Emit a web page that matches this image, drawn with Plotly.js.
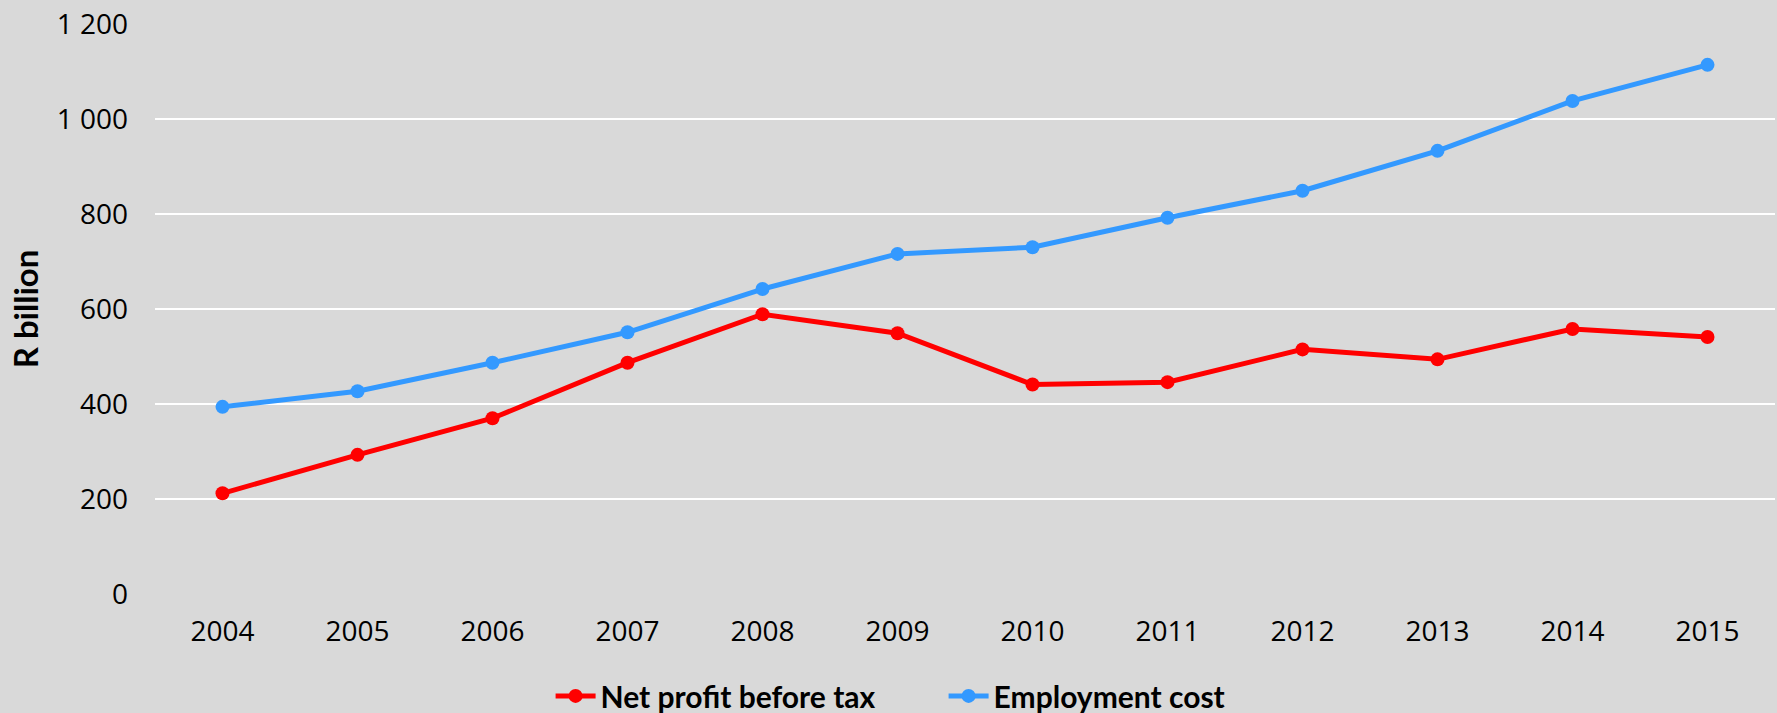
<!DOCTYPE html>
<html>
<head>
<meta charset="utf-8">
<script src="https://cdn.plot.ly/plotly-3.0.1.min.js"></script>
<style>html,body{margin:0;padding:0;background:#D9D9D9;}#chart{width:1777px;height:713px;}</style>
</head>
<body>
<div id="chart"></div>
<script>
const years = ['2004','2005','2006','2007','2008','2009','2010','2011','2012','2013','2014','2015'];
const netProfit = [212, 293, 370, 487, 589, 549, 441, 446, 515, 494, 558, 541];
const employmentCost = [394, 427, 487, 551, 642, 716, 730, 792, 849, 933, 1038, 1114];
const yTicks = [0, 200, 400, 600, 800, 1000, 1200];

const traces = [
  {
    x: years, y: netProfit, name: 'Net profit before tax',
    type: 'scatter', mode: 'lines+markers',
    line: {color: '#FF0000', width: 5},
    marker: {color: '#FF0000', size: 14}
  },
  {
    x: years, y: employmentCost, name: 'Employment cost',
    type: 'scatter', mode: 'lines+markers',
    line: {color: '#3399FF', width: 5},
    marker: {color: '#3399FF', size: 14}
  }
];

const layout = {
  width: 1777, height: 713,
  paper_bgcolor: '#D9D9D9', plot_bgcolor: '#D9D9D9',
  margin: {l: 155, r: 2, t: 24, b: 119},
  separators: '. ',
  font: {family: 'Open Sans, sans-serif', color: '#000000', size: 28},
  showlegend: true,
  legend: {
    orientation: 'h', xref: 'container', yref: 'container',
    x: 0.531, xanchor: 'center', y: 0.024, yanchor: 'middle',
    font: {family: 'Lato, sans-serif', size: 30, color: '#000000', weight: 'bold'},
    bgcolor: 'rgba(0,0,0,0)', itemwidth: 40, tracegroupgap: 0,
    entrywidth: 338
  },
  xaxis: {
    type: 'category', range: [-0.5, 11.5],
    showgrid: false, zeroline: false, showline: false,
    ticks: '', ticklabelstandoff: 18,
    tickfont: {family: 'Open Sans, sans-serif', size: 28, color: '#000000'}
  },
  yaxis: {
    range: [0, 1200], tickmode: 'array', tickvals: yTicks,
    tickformat: ',d',
    showgrid: true, gridcolor: '#FFFFFF', gridwidth: 2,
    zeroline: false, showline: false, ticks: '', ticklabelstandoff: 26,
    tickfont: {family: 'Open Sans, sans-serif', size: 28, color: '#000000'},
    title: {text: 'R billion', standoff: 8, font: {family: 'Lato, sans-serif', size: 33, color: '#000000', weight: 'bold'}}
  }
};

Plotly.newPlot('chart', traces, layout, {displayModeBar: false, staticPlot: true});
</script>
</body>
</html>
